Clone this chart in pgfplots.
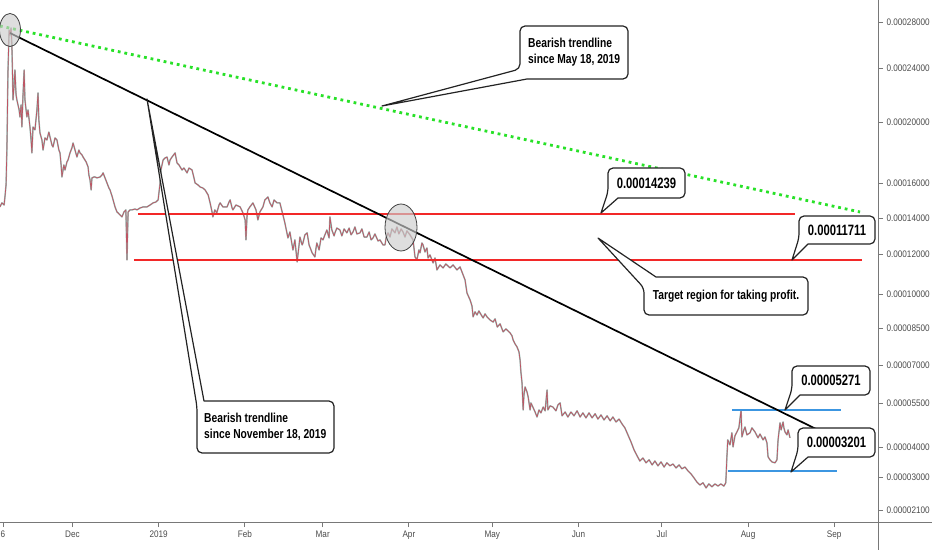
\documentclass[border=0pt]{standalone}
\usepackage{fontspec}
\setmainfont{Liberation Sans}
\newfontfamily\tickfam[FakeStretch=0.86]{Liberation Sans}
\newfontfamily\calfam[FakeStretch=0.79]{Liberation Sans Bold}
\newfontfamily\pricefam[FakeStretch=0.75]{Liberation Sans Bold}
\usepackage{pgfplots}
\pgfplotsset{compat=1.18}
\usepackage{pgfplotstable}

\definecolor{trgreen}{RGB}{40,225,40}
\definecolor{trred}{RGB}{242,40,40}
\definecolor{trblue}{RGB}{60,150,225}
\definecolor{candleteal}{RGB}{110,165,155}
\definecolor{candlered}{RGB}{190,85,100}
\definecolor{axgray}{RGB}{120,120,120}
\definecolor{lblgray}{RGB}{75,75,75}
\definecolor{boxline}{RGB}{35,35,35}

% piecewise price scale (values in units of 1e-6) -> position
\newdimen\trD \newdimen\trE
\makeatletter
\def\tr@seg#1#2#3{\def\tr@a{#1}\def\tr@b{#2}\def\tr@s{#3}}
\def\pricepix#1{%
  \edef\tr@tmp{#1}%
  \expandafter\tr@checkY\tr@tmp Y\relax
}
\def\tr@checkY#1Y#2\relax{%
  \ifx\relax#2\relax
    \tr@go{#1}%
  \else
    \pgfmathfloattofixed{\tr@tmp}%
    \expandafter\tr@go\expandafter{\pgfmathresult}%
  \fi
}
\def\tr@go#1{%
  \trD=#1pt\relax
  \ifdim\trD<30pt \tr@seg{21}{510}{3.6667}\else
  \ifdim\trD<40pt \tr@seg{30}{477}{3}\else
  \ifdim\trD<55pt \tr@seg{40}{447}{2.9333}\else
  \ifdim\trD<70pt \tr@seg{55}{403}{2.5333}\else
  \ifdim\trD<85pt \tr@seg{70}{365}{2.4667}\else
  \ifdim\trD<100pt \tr@seg{85}{328}{2.2667}\else
  \ifdim\trD<120pt \tr@seg{100}{294}{2}\else
  \ifdim\trD<140pt \tr@seg{120}{254}{1.8}\else
  \ifdim\trD<160pt \tr@seg{140}{218}{1.75}\else
  \ifdim\trD<200pt \tr@seg{160}{183}{1.525}\else
  \ifdim\trD<240pt \tr@seg{200}{122}{1.35}\else
  \tr@seg{240}{68}{1.15}%
  \fi\fi\fi\fi\fi\fi\fi\fi\fi\fi\fi
  \advance\trD by -\tr@a pt
  \trD=\tr@s\trD
  \trE=\tr@b pt
  \advance\trE by -\trD
  \trE=-\trE
  \edef\pgfmathresult{\strip@pt\trE}%
}
\makeatother

% price path: day (0 = 1 Dec 2018), price in 1e-6
\pgfplotstableread{
d v
-26.1 146.3
-25.4 148.6
-24.6 147.4
-24.3 152.0
-23.9 158.9
-23.6 181.6
-23.2 238.5
-22.8 273.0
-22.5 268.7
-22.1 274.8
-21.8 260.0
-21.4 216.3
-21.0 227.4
-20.7 238.5
-20.3 220.0
-20.0 216.3
-19.2 208.9
-18.9 203.7
-18.5 212.6
-18.2 196.7
-17.8 220.0
-17.4 238.5
-17.1 216.3
-16.7 208.9
-16.4 203.7
-16.0 208.9
-15.3 196.7
-14.9 188.2
-14.6 179.7
-14.2 196.7
-13.5 194.8
-12.8 208.9
-12.4 221.5
-12.1 201.5
-11.7 192.8
-11.0 188.2
-10.6 181.6
-9.9 189.5
-9.2 188.2
-8.5 193.4
-8.1 190.2
-7.4 184.9
-7.0 183.6
-6.3 189.5
-5.6 188.2
-4.9 181.6
-4.5 179.7
-4.1 171.8
-3.8 163.9
-3.1 171.8
-2.7 168.5
-2.0 173.8
-1.6 175.1
-0.9 179.7
-0.2 183.0
0.2 186.2
0.9 181.6
1.6 177.0
2.3 181.6
2.7 179.7
3.4 178.4
3.8 177.0
4.9 173.8
5.6 170.5
5.9 165.2
6.3 162.0
6.7 156.0
7.0 163.3
7.7 163.9
8.1 163.9
8.8 163.3
9.9 163.9
10.6 165.2
11.0 166.6
11.7 163.3
12.4 160.0
13.1 157.1
13.5 156.0
14.2 152.6
14.6 150.3
15.3 146.3
16.0 143.4
16.4 142.9
17.1 141.7
17.8 140.6
18.5 143.4
19.2 144.6
19.6 117.0
20.0 143.4
20.7 144.6
21.4 144.6
22.5 145.1
23.2 144.6
24.3 145.7
25.4 146.3
26.8 146.3
27.9 147.4
29.0 148.6
30.0 149.1
30.8 150.3
31.5 160.0
31.8 168.5
32.6 175.1
33.3 176.4
34.0 177.0
34.7 171.8
35.1 175.1
35.8 177.0
36.9 179.7
37.6 173.1
38.3 171.8
39.4 168.5
40.1 169.8
41.2 166.6
41.9 169.8
43.0 168.5
43.7 163.3
44.1 160.0
45.1 158.9
45.9 157.7
46.9 157.1
47.7 156.0
48.8 153.1
49.5 148.6
50.2 143.4
50.5 140.6
51.2 144.6
51.9 142.9
52.7 147.4
53.1 148.6
54.1 146.3
55.6 146.3
56.3 149.1
56.7 150.3
57.4 145.7
57.7 144.6
58.8 147.4
60.3 146.3
61.3 142.9
62.1 138.9
62.4 127.8
62.8 141.7
63.1 144.6
63.8 146.3
64.9 148.6
66.0 144.6
66.7 138.9
67.4 143.4
68.5 146.3
69.2 150.3
70.3 152.0
71.0 148.6
71.8 146.3
72.5 150.3
73.6 148.6
74.6 148.6
75.7 141.7
76.4 137.2
77.5 128.9
78.2 132.2
79.3 122.2
80.0 127.8
80.8 116.0
81.5 125.0
81.8 129.4
82.6 125.0
82.9 126.1
83.6 130.6
84.4 131.7
85.1 125.0
86.2 120.6
87.2 118.5
87.6 123.3
87.9 126.1
88.7 122.2
89.4 128.9
90.1 127.8
90.8 130.6
91.5 133.3
92.3 128.9
92.6 140.6
93.3 133.3
94.1 130.0
94.4 131.7
95.1 134.4
96.2 133.3
96.9 130.0
97.7 133.9
98.7 131.7
99.5 134.4
100.2 130.6
100.9 132.2
101.6 135.0
102.3 131.1
103.4 131.7
104.1 133.9
104.9 129.4
105.9 129.4
106.7 132.2
107.4 127.8
108.1 128.9
108.8 131.1
109.9 127.2
110.6 127.8
111.7 125.0
112.4 125.0
112.8 128.9
113.5 131.7
114.2 129.4
114.9 133.9
116.0 131.7
116.7 135.0
117.4 131.1
118.2 133.9
118.9 132.2
119.6 129.4
120.3 132.8
121.4 130.6
122.5 127.8
123.2 118.5
123.9 117.0
124.6 122.2
125.0 120.6
125.7 126.1
126.1 125.0
126.8 121.1
127.5 123.3
127.9 118.0
128.6 119.5
129.7 115.5
130.4 118.0
131.1 112.0
132.2 114.5
133.3 113.0
134.3 115.0
135.8 113.0
136.9 114.5
138.3 112.0
139.4 113.5
140.1 111.0
141.2 107.0
141.9 100.5
142.7 98.2
143.0 97.4
143.7 94.7
144.1 89.9
144.8 92.1
145.5 90.7
146.2 92.5
146.6 91.6
147.7 89.4
148.4 91.2
149.1 89.9
150.2 88.5
151.3 87.6
152.0 89.0
152.8 85.4
153.8 86.8
154.9 83.4
155.9 84.6
157.4 83.0
158.1 81.8
158.5 80.1
159.2 78.5
159.9 77.3
160.6 75.3
161.0 72.0
161.3 67.2
161.7 62.9
162.1 52.6
162.4 58.2
162.8 61.3
163.5 59.3
163.9 57.4
164.6 52.6
164.9 55.0
165.6 53.6
166.4 51.9
167.1 50.2
167.8 52.6
168.5 51.6
169.3 53.6
170.0 52.3
170.7 60.1
171.0 52.6
171.8 54.0
172.8 53.6
173.9 52.3
174.6 54.3
175.4 55.0
176.1 50.6
177.2 51.9
178.2 50.2
179.3 51.9
180.4 50.6
181.5 52.3
182.6 50.2
183.6 51.6
184.7 49.9
185.8 51.6
186.9 49.9
188.0 51.3
189.0 49.5
190.1 50.9
191.2 49.2
192.3 50.6
193.4 48.9
194.4 50.2
195.5 48.5
196.6 49.5
197.7 47.8
198.7 46.5
199.8 44.1
200.9 41.7
202.0 39.0
203.1 37.0
204.1 35.3
205.2 36.3
206.3 34.7
207.4 35.7
208.5 34.0
209.5 35.3
210.6 33.7
211.7 35.0
212.8 33.3
213.8 34.7
214.9 33.7
216.0 34.3
217.1 33.0
218.2 34.0
219.2 32.7
220.3 33.3
221.4 32.0
222.5 31.0
223.6 29.7
224.6 28.6
225.7 27.8
226.8 28.4
227.9 27.0
228.9 28.1
230.0 27.3
231.1 28.1
232.2 27.5
233.2 28.1
234.3 27.5
235.0 28.4
235.4 36.7
235.7 42.4
236.5 40.7
237.2 44.8
237.6 40.0
238.3 43.8
239.0 45.1
239.7 46.5
240.5 52.6
240.8 43.4
241.5 45.8
241.9 46.8
242.6 44.1
243.7 44.8
244.4 46.5
245.5 45.1
246.2 43.8
246.6 43.1
247.3 44.4
248.4 42.4
249.1 43.4
249.8 41.4
250.2 36.7
250.9 35.7
251.6 35.0
252.7 34.7
253.4 35.7
253.8 42.4
254.5 48.2
254.9 45.8
255.6 48.5
255.9 46.5
256.3 45.1
257.0 44.1
257.4 45.8
258.1 43.1
}\pricetab

\begin{document}
\begin{tikzpicture}
\begin{axis}[
  at={(0pt,28pt)}, anchor=south west,
  scale only axis, width=878pt, height=522pt,
  xmin=-26.08, xmax=289.75,
  ymin=17.7, ymax=299.1,
  y coord trafo/.code={\pricepix{#1}},
  axis x line=bottom, axis y line=right,
  axis line style={-, axgray, line width=1pt},
  tick style={axgray, line width=0.8pt},
  major tick length=5pt, tick align=outside,
  xtick={-25,0,31,62,90,121,151,182,212,243,274},
  xticklabels={6,Dec,2019,Feb,Mar,Apr,May,Jun,Jul,Aug,Sep},
  ytick={280,240,200,160,140,120,100,85,70,55,40,30,21},
  yticklabels={0.00028000,0.00024000,0.00020000,0.00016000,0.00014000,0.00012000,0.00010000,0.00008500,0.00007000,0.00005500,0.00004000,0.00003000,0.00002100},
  ticklabel style={font=\tickfam\fontsize{9.5}{11}\selectfont, text=lblgray},
  scaled y ticks=false, scaled x ticks=false,
  clip=true,
]
\addplot[candleteal, line width=1.5pt, opacity=0.75, line join=round] table[x=d, y=v] {\pricetab};
\addplot[candlered, line width=0.7pt, line join=round] table[x=d, y=v] {\pricetab};
\addplot[trred, line width=2.2pt] coordinates {(23.6,142.39) (259.9,142.39)};
\addplot[trred, line width=2.2pt] coordinates {(22.1,117.11) (284.0,117.11)};
\addplot[trblue, line width=2.2pt] coordinates {(237.2,52.71) (276.4,52.71)};
\addplot[trblue, line width=2.2pt] coordinates {(235.7,32.01) (275.0,32.01)};
\addplot[black, line width=1.7pt] coordinates {(-22.5,270.4) (268.9,45.45)};
\addplot[trgreen, line width=2.8pt, dash pattern=on 2.8pt off 3.9pt] coordinates {(-26.1,276.5) (283.3,143.4)};
\end{axis}

\begin{scope}[x=1pt, y=-1pt, yshift=550pt,
  co/.style={fill=white, draw=boxline, line width=1.2pt, line join=round}]
  % extended scale separators
  \draw[axgray, line width=1pt] (0,522) -- (932,522);
  \draw[axgray, line width=1pt] (878,0) -- (878,550);
  % ellipses
  \draw[fill=gray!40, fill opacity=0.65, draw=black!75, line width=0.8pt] (10,30) ellipse [x radius=10.5pt, y radius=16.5pt];
  \draw[fill=gray!40, fill opacity=0.65, draw=black!75, line width=0.8pt] (401,227.5) ellipse [x radius=16pt, y radius=23.5pt];
  % callout: May
  \draw[co, rounded corners=5pt] (527,79) -- (628,79) -- (628,26) -- (520,26) -- (520,69) [sharp corners] -- (382,106) -- cycle;
  \node[anchor=west, align=left, inner sep=0pt, font=\calfam\fontsize{13}{16}\selectfont] at (528,52.5) {Bearish trendline\\since May 18, 2019};
  % callout: November
  \draw[co, rounded corners=5pt] (204,401) -- (334,401) -- (334,453) -- (197,453) -- (197,407) [sharp corners] -- (147,99) -- cycle;
  \node[anchor=west, align=left, inner sep=0pt, font=\calfam\fontsize{13}{16}\selectfont] at (204,427) {Bearish trendline\\since November 18, 2019};
  % callout: 0.00014239
  \draw[co, rounded corners=5pt] (618,198) -- (685,198) -- (685,168) -- (608,168) -- (608,192) [sharp corners] -- (601,213) -- cycle;
  \node[inner sep=0pt, font=\pricefam\fontsize{15}{18}\selectfont] at (646.5,183) {0.00014239};
  % callout: 0.00011711
  \draw[co, rounded corners=5pt] (808,244) -- (875,244) -- (875,216) -- (799,216) -- (799,238) [sharp corners] -- (792,260) -- cycle;
  \node[inner sep=0pt, font=\pricefam\fontsize{15}{18}\selectfont] at (837,230) {0.00011711};
  % callout: target region
  \draw[co, rounded corners=5pt] (656,277) -- (808,277) -- (808,315) -- (644,315) -- (644,288) [sharp corners] -- (598,238) -- cycle;
  \node[inner sep=0pt, font=\calfam\fontsize{13}{16}\selectfont] at (726,296) {Target region for taking profit.};
  % callout: 0.00005271
  \draw[co, rounded corners=5pt] (800,395) -- (870,395) -- (870,366) -- (792,366) -- (792,389) [sharp corners] -- (785,410) -- cycle;
  \node[inner sep=0pt, font=\pricefam\fontsize{15}{18}\selectfont] at (831,380.5) {0.00005271};
  % callout: 0.00003201
  \draw[co, rounded corners=5pt] (808,457) -- (875,457) -- (875,428) -- (798,428) -- (798,450) [sharp corners] -- (791,472) -- cycle;
  \node[inner sep=0pt, font=\pricefam\fontsize{15}{18}\selectfont] at (836.5,442.5) {0.00003201};
\end{scope}
\pgfresetboundingbox
\path[use as bounding box] (0pt,0pt) rectangle (932pt,550pt);
\end{tikzpicture}
\end{document}
